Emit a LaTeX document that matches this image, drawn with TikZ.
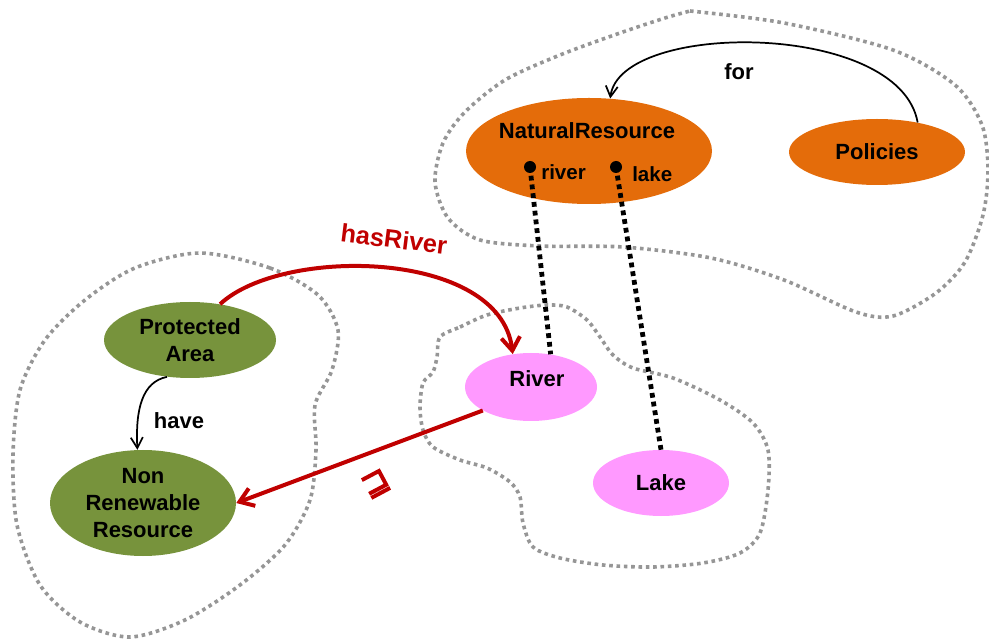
\documentclass[tikz,border=0pt]{standalone}
\usepackage{fontspec}
\setmainfont{Liberation Sans}
\newfontfamily\opfont[FakeBold=4]{DejaVu Sans}
\usetikzlibrary{shapes.geometric,arrows.meta}

\definecolor{resorange}{HTML}{E46C0A}
\definecolor{areagreen}{HTML}{77933C}
\definecolor{waterpink}{HTML}{FF99FF}
\definecolor{relred}{HTML}{C00000}
\definecolor{blobgray}{HTML}{969696}

\begin{document}
\begin{tikzpicture}[x=0.75pt,y=-0.75pt,
  concept/.style={ellipse, draw=none, inner sep=0pt, align=center,
    font=\bfseries\fontsize{16.5}{20}\selectfont},
  caption/.style={inner sep=0pt, font=\bfseries\fontsize{16.5}{20}\selectfont},
  slotname/.style={inner sep=0pt, anchor=base west, font=\bfseries\fontsize{15.4}{18}\selectfont},
  group/.style={draw=blobgray, line width=2.7pt, dash pattern=on 2.7pt off 2.8pt},
  slotlink/.style={draw=black, line width=3.6pt, dash pattern=on 3.6pt off 3pt},
  relation/.style={draw=black, line width=1.3pt, -{Straight Barb[length=8pt,width=9pt]}},
  redrel/.style={draw=relred, line width=3pt, -{Straight Barb[length=10pt,width=14pt]}},
]
\useasboundingbox (0,0) rectangle (989,641);

% module outlines
\draw[group] plot[smooth cycle] coordinates {
  (200,253) (270,268) (318,295) (338,330) (332,370) (315,405) (316,450)
  (310,500) (285,545) (240,585) (185,620) (130,637) (80,622) (40,585)
  (17,525) (13,455) (20,390) (45,340) (85,300) (135,268)};
\draw[group] plot[smooth cycle] coordinates {
  (440,337) (460,327) (487,315) (520,308) (547,305) (567,307) (587,320)
  (600,337) (613,355) (633,368) (673,378) (720,400) (753,423) (768,450)
  (768,490) (760,533) (740,553) (703,563) (653,567) (603,565) (560,558)
  (533,547) (523,523) (520,497) (510,482) (487,468) (460,460) (433,447)
  (423,430) (420,407) (423,383) (433,372) (437,357)};
\draw[group] plot[smooth] coordinates {
  (690,11) (784,23) (893,50) (955,85) (982,125) (988,170) (983,215)
  (965,262) (936,293) (893,316) (856,312) (784,280) (711,258) (623,247)
  (540,246) (480,240) (448,218) (435,182) (443,143) (465,112) (505,80)
  (560,55) (620,33) (665,18) (690,11)};

% concepts
\node[concept, fill=resorange, minimum width=184.5pt, minimum height=79.5pt] (nr) at (589,151) {};
\node[caption, anchor=base] (nrname) at (587,139) {NaturalResource};
\node[concept, fill=resorange, minimum width=132pt, minimum height=49.5pt] (pol) at (877,152) {Policies};
\node[concept, fill=areagreen, minimum width=129pt, minimum height=57pt] (pa) at (190,340) {Protected\\Area};
\node[concept, fill=areagreen, minimum width=139.5pt, minimum height=79.5pt] (nrr) at (143,503) {Non\\Renewable\\Resource};
\node[concept, fill=waterpink, minimum width=99pt, minimum height=51pt] (river) at (531,387) {};
\node[caption, anchor=base] (rivername) at (537,387) {River};
\node[concept, fill=waterpink, minimum width=102pt, minimum height=49.5pt] (lake) at (661,483) {Lake};

% slots of NaturalResource
\coordinate (rslot) at (530,167);
\coordinate (lslot) at (616,167);
\node[slotname] (rivertxt) at (541,180) {river};
\node[slotname] (laketxt) at (632,182) {lake};
\draw[slotlink] (rslot) -- (river.59);
\draw[slotlink] (lslot) -- (lake.north);
\fill (rslot) circle[radius=4.5pt];
\fill (lslot) circle[radius=4.5pt];

% relations
\draw[relation] (pol.36) .. controls +(-18,-102) and +(10,-78) .. (nr.68);
\node[caption] (forlbl) at (739,72) {for};
\draw[relation] (pa.238) .. controls +(-25,5) and +(-2,-40) .. (nrr.96);
\node[caption] (havelbl) at (179,421) {have};
\draw[redrel] (pa.50) .. controls +(62,-58) and +(-13,-105) .. (river.119);
\node[caption, text=relred, rotate=-7, font=\bfseries\fontsize{19}{22}\selectfont] (hasriverlbl) at (394,239) {hasRiver};
\draw[redrel] (river.206) -- (nrr.east);
\node[text=relred, rotate=28, inner sep=0pt, font=\opfont\fontsize{24}{24}\selectfont] (sublbl) at (376,484) {⊒};
\end{tikzpicture}
\end{document}
